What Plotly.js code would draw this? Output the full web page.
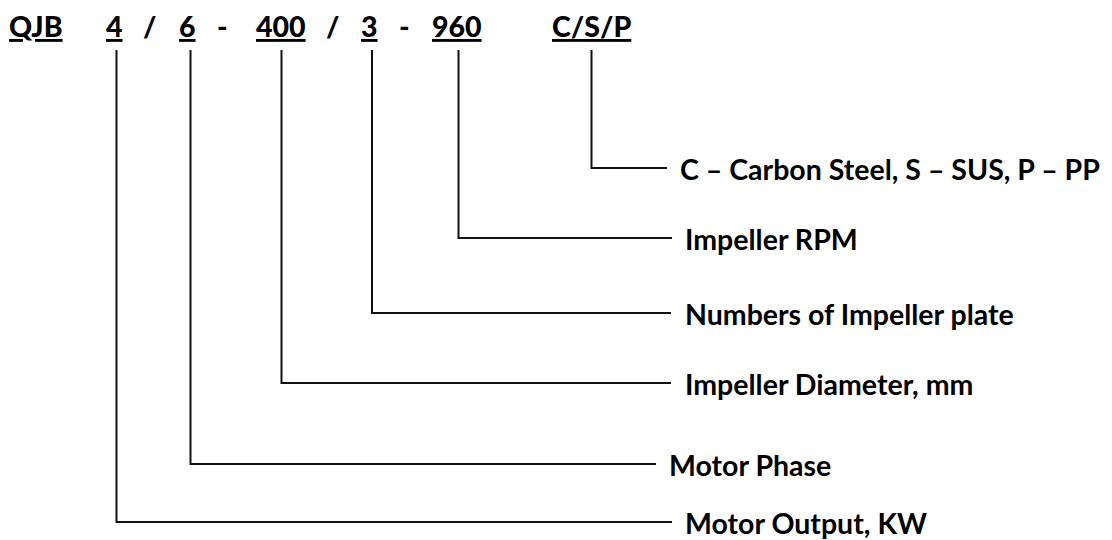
<!DOCTYPE html>
<html><head><meta charset="utf-8">
<script src="https://cdn.plot.ly/plotly-3.0.1.min.js"></script>
<style>html,body{margin:0;padding:0;background:#fff}#chart{width:1112px;height:540px}</style>
</head><body><div id="chart"></div>
<script>
// model designation code parts
const codeParts = ["QJB", "4", "/", "6", "-", "400", "/", "3", "-", "960", "C/S/P"];
const codeUnderlined = [true, true, false, true, false, true, false, true, false, true, true];
// explanation labels (top to bottom) and the code part each one explains
const labels = ["C – Carbon Steel, S – SUS, P – PP", "Impeller RPM", "Numbers of Impeller plate",
                "Impeller Diameter, mm", "Motor Phase", "Motor Output, KW"];
const labelPart = [10, 9, 7, 5, 3, 1];

// ---- geometry (pixel space of the 1112x540 canvas) ----
const partX = [35.5, 114.5, 149.5, 187, 222.5, 280.5, 332.5, 369.5, 404.5, 456.5, 591];
const connX = [591.5, 458.5, 372, 281.5, 190.5, 116.5];
const labelY = [168, 238, 313, 383, 464, 522];
const connEndX = [667, 672, 671, 671, 656, 672];
const labelX = [678, 683, 683, 683, 667, 683];
const connTop = 50;
const codeY = 26;

const FONT = "Lato, 'Open Sans', sans-serif";

const traces = labels.map((lab, i) => ({
  type: "scatter", mode: "lines",
  x: [connX[i], connX[i], connEndX[i]],
  y: [connTop, labelY[i], labelY[i]],
  line: {color: "#111", width: 2},
  hoverinfo: "skip", showlegend: false
}));

const annotations = [];
codeParts.forEach((p, i) => {
  annotations.push({
    x: partX[i], y: codeY, xref: "x", yref: "y",
    text: codeUnderlined[i] ? "<u>" + p + "</u>" : p,
    showarrow: false, xanchor: "center", yanchor: "middle",
    font: {family: FONT, size: 28.5, color: "#000", weight: 900}
  });
});
labels.forEach((lab, i) => {
  annotations.push({
    x: labelX[i], y: labelY[i] + 1, xref: "x", yref: "y",
    text: lab, showarrow: false, xanchor: "left", yanchor: "middle",
    font: {family: FONT, size: 28.5, color: "#000", weight: "bold"}
  });
});

const layout = {
  width: 1112, height: 540,
  margin: {l: 0, r: 0, t: 0, b: 0},
  paper_bgcolor: "#fff", plot_bgcolor: "#fff",
  xaxis: {range: [0, 1112], visible: false, fixedrange: true},
  yaxis: {range: [540, 0], visible: false, fixedrange: true},
  showlegend: false,
  annotations: annotations
};

Plotly.newPlot("chart", traces, layout, {displayModeBar: false, staticPlot: true});
</script>
</body></html>
